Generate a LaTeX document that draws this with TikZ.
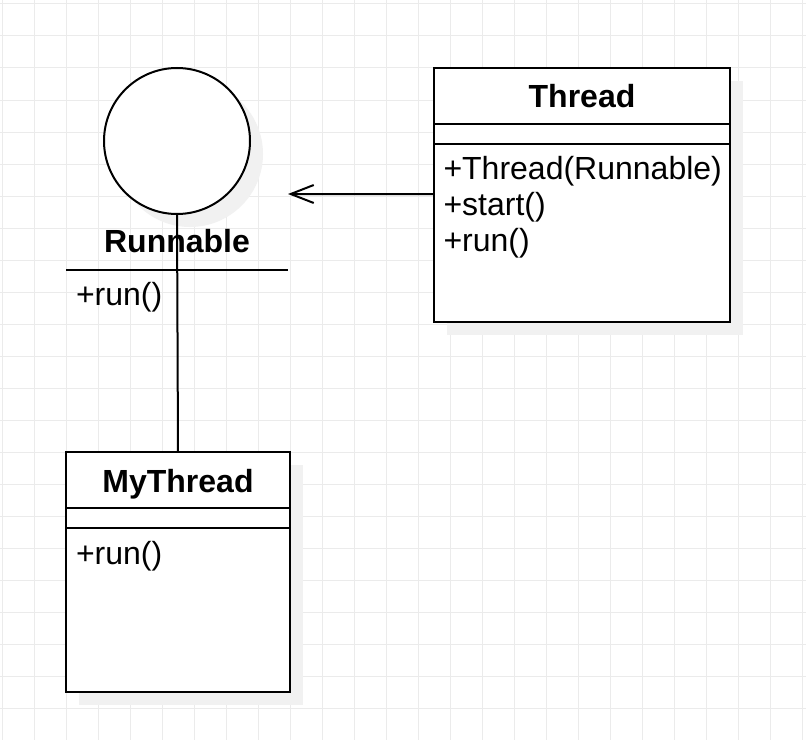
\documentclass[tikz,border=0pt]{standalone}
\usepackage{fontspec}
\setmainfont{Liberation Sans}
\usetikzlibrary{arrows.meta,shadows}
\definecolor{gridc}{RGB}{235,235,235}
\definecolor{shadowc}{RGB}{241,241,241}
\begin{document}
\begin{tikzpicture}[x=1bp,y=-1bp, line width=2bp,
  myshadow/.style={general shadow={fill=shadowc, shadow xshift=13bp, shadow yshift=-13bp}},
  umlbox/.style={draw=black, fill=white, rectangle, inner sep=0pt, outer sep=0pt, anchor=north west, myshadow},
  titletext/.style={font=\fontsize{32bp}{36bp}\selectfont\bfseries, inner sep=0pt, anchor=base},
  membertext/.style={font=\fontsize{32bp}{36bp}\selectfont, inner sep=0pt, anchor=base west},
  openarrow/.style={-{Straight Barb[length=23bp,width=18bp]}},
  gridline/.style={draw=gridc, line width=1bp}
]
\useasboundingbox (0,0) rectangle (806,740);
\fill[white] (0,0) rectangle (806,740);
\foreach \i in {0,...,25} \draw[gridline] (2+32*\i,0) -- (2+32*\i,740);
\foreach \j in {0,...,22} \draw[gridline] (0,4+32*\j) -- (806,4+32*\j);

% Thread class
\node[umlbox, minimum width=296bp, minimum height=254bp] (thread) at (434,68) {};
\path (0,123.5) coordinate (th1) (0,144) coordinate (th2);
\draw (thread.west |- th1) -- (thread.east |- th1);
\draw (thread.west |- th2) -- (thread.east |- th2);
\node[titletext] (threadT) at (582,107) {Thread};
\node[membertext] (threadM1) at (442.5,179) {+Thread(Runnable)};
\node[membertext] (threadM2) at (442.5,215) {+start()};
\node[membertext] (threadM3) at (442.5,251) {+run()};

% Runnable interface
\node[circle, draw=black, fill=white, minimum size=146bp, inner sep=0pt, outer sep=0pt, myshadow] (runC) at (177,141) {};
\node[titletext] (runT) at (177,252) {Runnable};
\path (66,270) coordinate (runL) (288,270) coordinate (runR);
\draw (runL) -- (runR);
\node[membertext] (runM) at (75,305) {+run()};

% MyThread class
\node[umlbox, minimum width=224bp, minimum height=240bp] (my) at (66,452) {};
\path (0,508) coordinate (my1) (0,528) coordinate (my2);
\draw (my.west |- my1) -- (my.east |- my1);
\draw (my.west |- my2) -- (my.east |- my2);
\node[titletext] (myT) at (178,492) {MyThread};
\node[membertext] (myM) at (75,564) {+run()};

% connectors
\coordinate (tip) at (288,194);
\draw[openarrow] ([yshift=1bp]thread.west) -- (tip);
\draw (runC.south) -- (my.north);
\end{tikzpicture}
\end{document}
